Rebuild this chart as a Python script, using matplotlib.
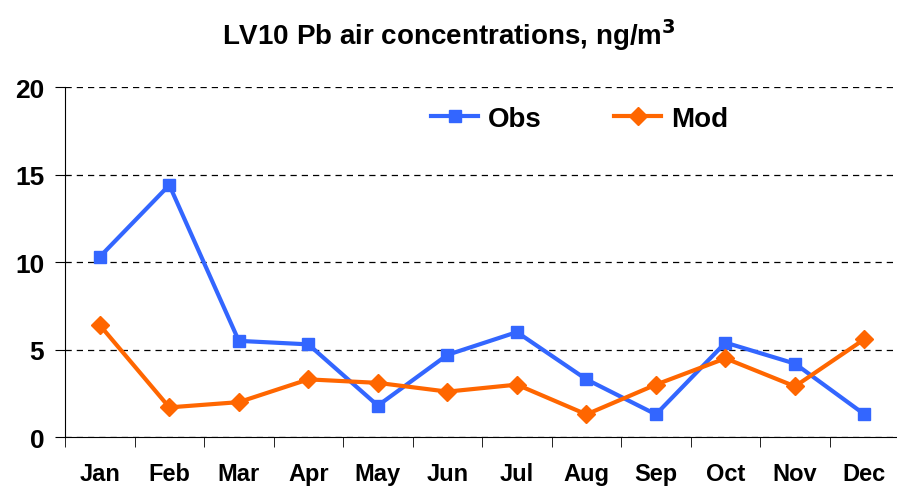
import numpy as np
import matplotlib
matplotlib.use('Agg')
import matplotlib.pyplot as plt

months = ['Jan', 'Feb', 'Mar', 'Apr', 'May', 'Jun', 'Jul', 'Aug', 'Sep', 'Oct', 'Nov', 'Dec']
obs = [10.3, 14.4, 5.5, 5.3, 1.8, 4.7, 6.0, 3.3, 1.3, 5.4, 4.2, 1.3]
mod = [6.4, 1.7, 2.0, 3.3, 3.1, 2.6, 3.0, 1.3, 3.0, 4.5, 2.9, 5.6]

plt.rcParams['font.family'] = ['Liberation Sans', 'DejaVu Sans']

fig = plt.figure(figsize=(8.97, 4.89), dpi=100)
ax = fig.add_axes([0.0725, 0.104, 0.93, 0.716])

x = np.arange(len(months))
ax.plot(x, obs, color='#3366FF', lw=3, marker='s', ms=9, label='Obs')
ax.plot(x, mod, color='#FF6600', lw=3, marker='D', ms=9, label='Mod')

ax.set_xlim(-0.5, len(months) - 0.5)
ax.set_ylim(0, 20)
ax.set_yticks([0, 5, 10, 15, 20])
ax.yaxis.grid(True, ls=(0, (5, 4)), color='black', lw=0.9)
ax.set_axisbelow(True)

ax.set_xticks(x)
ax.set_xticklabels(months, fontsize=17, fontweight='bold')
ax.set_xticks(np.arange(-0.5, len(months), 1), minor=True)
ax.tick_params(axis='x', which='major', length=0, pad=18)
ax.tick_params(axis='x', which='minor', length=7, direction='out', color='black')
ax.tick_params(axis='y', length=7, direction='out', labelsize=19, pad=8)
for t in ax.get_yticklabels():
    t.set_fontweight('bold')

ax.spines['top'].set_visible(False)
ax.spines['right'].set_visible(False)

ax.legend(loc='upper center', bbox_to_anchor=(0.617, 1.018), ncol=2, frameon=False,
          prop={'weight': 'bold', 'size': 20}, handlelength=1.7, columnspacing=2.6,
          handletextpad=0.35)

fig.suptitle('LV10 Pb air concentrations, ng/m$^\\mathbf{3}$', fontsize=20, fontweight='bold', y=0.965)

fig.savefig('out.png', dpi=100)
